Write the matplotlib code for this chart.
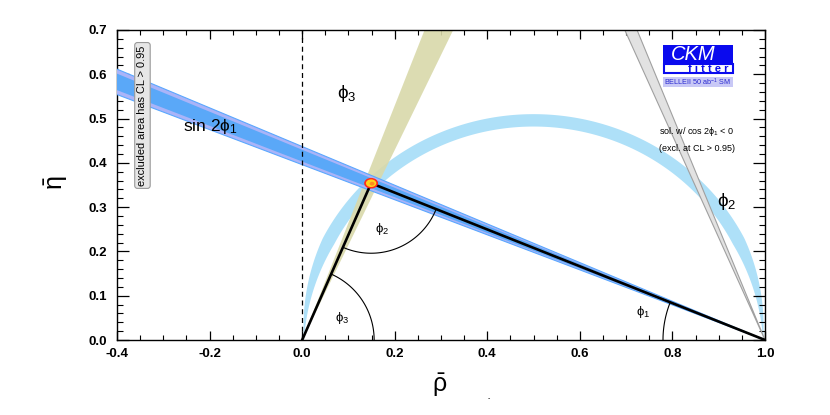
import numpy as np
import matplotlib
matplotlib.use("Agg")
import matplotlib.pyplot as plt
from matplotlib.patches import Rectangle, Ellipse
from matplotlib.ticker import MultipleLocator

plt.rcParams['font.family'] = ['Liberation Sans', 'DejaVu Sans']
plt.rcParams['mathtext.fontset'] = 'dejavusans'
plt.rcParams['mathtext.default'] = 'regular'

# fitted apex of the unitarity triangle
apex_rho = 0.149
apex_eta = 0.354

# constraint bands
beta_95 = [21.6, 23.6]       # sin 2phi1 wedge from (1,0), degrees
beta_68 = [21.95, 23.25]
beta_alt = [66.6, 68.45]     # cos 2phi1 < 0 solution, degrees from (1,0)
gamma_95 = [65.0, 69.3]      # phi3 wedge from (0,0), degrees
alpha_r = [0.482, 0.510]     # phi2 band radius around (0.5, 0)
apex_size = [0.030, 0.024]   # CL ellipse (width, height)

x_ticks = [-0.4, -0.2, 0.0, 0.2, 0.4, 0.6, 0.8, 1.0]
y_ticks = [0.0, 0.1, 0.2, 0.3, 0.4, 0.5, 0.6, 0.7]

fig = plt.figure(figsize=(8.3, 4.15), dpi=100)
ax = fig.add_axes([117 / 830, 75 / 415, 648 / 830, 310 / 415])
ax.set_xlim(-0.4, 1.0)
ax.set_ylim(0.0, 0.7)

# pixels per data unit, used for arcs drawn round on screen
sx = 648 / 1.4
sy = 310 / 0.7


def wedge(x0, y0, a1, a2, **kw):
    L = 3.0
    xs = [x0, x0 + L * np.cos(np.radians(a1)), x0 + L * np.cos(np.radians(a2))]
    ys = [y0, y0 + L * np.sin(np.radians(a1)), y0 + L * np.sin(np.radians(a2))]
    ax.fill(xs, ys, **kw)


# phi2 band (light blue half ring, pinched at the ends)
t = np.linspace(0, np.pi, 400)
mid = np.mean(alpha_r)
half = (alpha_r[1] - alpha_r[0]) / 2 * np.minimum(1, np.sin(t) / 0.45)
r_out = mid + half
r_in = mid - half
xs = np.concatenate([0.5 + r_out * np.cos(t), (0.5 + r_in * np.cos(t))[::-1]])
ys = np.concatenate([r_out * np.sin(t), (r_in * np.sin(t))[::-1]])
ax.fill(xs, ys, color="#aee0f8", lw=0, zorder=1)

# phi3 band
wedge(0, 0, gamma_95[0], gamma_95[1], color="#d9d9aa", alpha=0.9, lw=0, zorder=2)

# cos 2phi1 < 0 solution (grey)
wedge(1, 0, 180 - beta_alt[0], 180 - beta_alt[1], facecolor="#e2e2e2",
      edgecolor="#a0a0a0", lw=0.8, zorder=2)

# sin 2phi1 band
wedge(1, 0, 180 - beta_95[0], 180 - beta_95[1], facecolor="#aab4f8",
      edgecolor="#5aa8ff", lw=0.8, zorder=3)
wedge(1, 0, 180 - beta_68[0], 180 - beta_68[1], color="#5aa8f8", lw=0, zorder=3)

# dashed line at rho = 0
ax.plot([0, 0], [0, 0.7], color="black", ls=(0, (4, 3)), lw=0.9, zorder=4)

# triangle
ax.plot([0, apex_rho, 1], [0, apex_eta, 0], color="black", lw=1.9, zorder=6)


def arc(x0, y0, r_px, a1, a2):
    tt = np.radians(np.linspace(a1, a2, 100))
    ax.plot(x0 + r_px / sx * np.cos(tt), y0 + r_px / sy * np.sin(tt),
            color="black", lw=0.8, zorder=5)


ang_left = np.degrees(np.arctan2(apex_eta * sy, apex_rho * sx))
ang_right = np.degrees(np.arctan2(apex_eta * sy, (1 - apex_rho) * sx))
arc(0, 0, 72, 0, ang_left)
arc(1, 0, 102, 180 - ang_right, 180)
arc(apex_rho, apex_eta, 70, 180 + ang_left, 360 - ang_right)

# CL contours at apex
ax.add_patch(Ellipse((apex_rho, apex_eta), apex_size[0], apex_size[1],
                     facecolor="#ff2a1a", edgecolor="none", zorder=7))
ax.add_patch(Ellipse((apex_rho, apex_eta), apex_size[0] * 0.75, apex_size[1] * 0.72,
                     facecolor="#ffd21a", edgecolor="none", zorder=7))
ax.add_patch(Ellipse((apex_rho + 0.002, apex_eta - 0.001), apex_size[0] * 0.35,
                     apex_size[1] * 0.35, facecolor="#ff8c1a", edgecolor="none", zorder=7))

# labels inside the plot
ax.text(0.086, 0.05, r"$\phi_3$", fontsize=9.5, ha="center", va="center", zorder=8)
ax.text(0.172, 0.25, r"$\phi_2$", fontsize=9.5, ha="center", va="center", zorder=8)
ax.text(0.736, 0.064, r"$\phi_1$", fontsize=9.5, ha="center", va="center", zorder=8)
ax.text(0.097, 0.557, r"$\phi_3$", fontsize=13.5, ha="center", va="center", zorder=8)
ax.text(0.918, 0.312, r"$\phi_2$", fontsize=13.5, ha="center", va="center", zorder=8)
ax.text(-0.257, 0.483, r"sin 2$\phi_1$", fontsize=12.5, ha="left", va="center", zorder=8)
ax.text(0.853, 0.47, r"sol. w/ cos 2$\phi_1$ < 0", fontsize=6.5, ha="center",
        va="center", zorder=8)
ax.text(0.853, 0.433, "(excl. at CL > 0.95)", fontsize=6.5, ha="center",
        va="center", zorder=8)
ax.text(-0.345, 0.507, "excluded area has CL > 0.95", fontsize=7.9, rotation=90,
        ha="center", va="center", zorder=9,
        bbox=dict(boxstyle="round,pad=0.25", fc="#e6e6e6", ec="#999999", lw=0.8))

# axes styling
ax.set_xticks(x_ticks)
ax.set_yticks(y_ticks)
ax.xaxis.set_minor_locator(MultipleLocator(0.05))
ax.yaxis.set_minor_locator(MultipleLocator(0.02))
ax.tick_params(axis="x", which="major", direction="in", length=6.5, width=0.9,
               top=True, pad=6, labelsize=9.5)
ax.tick_params(axis="x", which="minor", direction="in", length=3.6, width=0.8, top=True)
ax.tick_params(axis="y", which="major", direction="in", length=8.5, width=0.9,
               right=True, pad=7, labelsize=9.5)
ax.tick_params(axis="y", which="minor", direction="in", length=4.3, width=0.8, right=True)
ax.set_xticklabels(["%.1f" % v for v in x_ticks], fontweight="bold")
ax.set_yticklabels(["%.1f" % v for v in y_ticks], fontweight="bold")
for s in ax.spines.values():
    s.set_linewidth(1.0)

fig.text(440 / 830, 1 - 385 / 415, r"$\bar{\rho}$", fontsize=18, ha="center", va="center")
fig.text(56 / 830, 1 - 183 / 415, r"$\bar{\eta}$", fontsize=18, ha="center", va="center",
         rotation=90)
fig.text(489 / 830, 1 - 399 / 415, "-", fontsize=5, ha="center", va="center")

# CKMfitter logo
fig.add_artist(Rectangle((663 / 830, 1 - 64 / 415), 70 / 830, 19 / 415,
                         transform=fig.transFigure, facecolor="#0a0aee", edgecolor="none"))
fig.add_artist(Rectangle((663.5 / 830, 1 - 73.5 / 415), 69 / 830, 9.5 / 415,
                         transform=fig.transFigure, facecolor="white",
                         edgecolor="#0a0aee", lw=1.5))
fig.add_artist(Rectangle((663 / 830, 1 - 87 / 415), 70 / 830, 10 / 415,
                         transform=fig.transFigure, facecolor="#c8c8f6", edgecolor="none"))
fig.text(693 / 830, 1 - 54.5 / 415, "CKM", color="white", fontsize=14.5, style="italic",
         ha="center", va="center")
fig.text(708 / 830, 1 - 69 / 415, "f i t t e r", color="#0a0aee", fontsize=8,
         fontweight="bold", ha="center", va="center")
fig.text(698 / 830, 1 - 82 / 415, r"BELLEII 50 ab$^{-1}$ SM", color="#2a2ad0",
         fontsize=5.2, ha="center", va="center")

fig.savefig("out.png", dpi=100)
